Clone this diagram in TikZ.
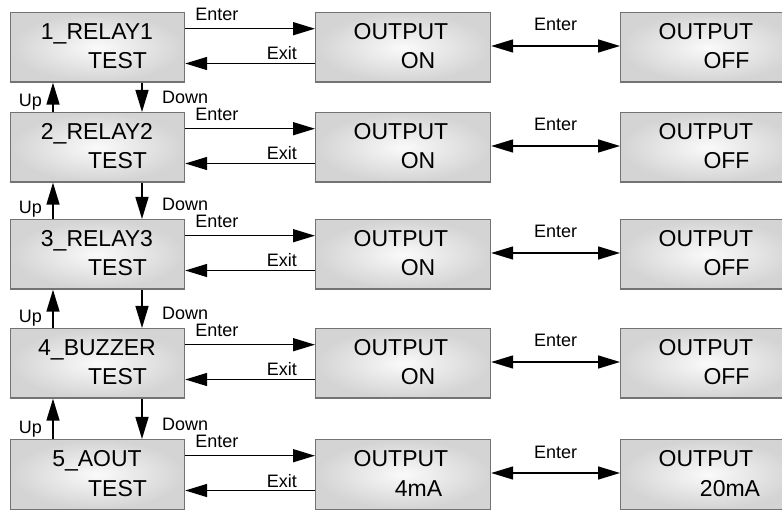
\documentclass[tikz,border=0pt]{standalone}
\usepackage{fontspec}
\setmainfont{Liberation Sans}
\usetikzlibrary{arrows.meta,calc}
\begin{document}
\begin{tikzpicture}[x=1pt,y=-1pt,
  panel/.style={draw=black!55, line width=1.2pt, inner color=black!2, outer color=black!17,
    minimum height=69.5pt, inner sep=0pt, anchor=north west},
  bigtxt/.style={font=\fontsize{23}{27}\selectfont, anchor=base, inner sep=0pt},
  tag/.style={font=\fontsize{18}{21}\selectfont, inner sep=0pt},
  link/.style={line width=1.5pt, -{Triangle[length=22pt,width=13pt]}},
  duallink/.style={line width=1.5pt, {Triangle[length=22pt,width=13pt]}-{Triangle[length=22pt,width=13pt]}},
  ]
\clip (0,0) rectangle (782,510);
\fill[white] (0,0) rectangle (782,510);

% one row per test item: menu panel, output state, toggled state
\foreach \i/\t/\name/\mtxt/\mx/\rtxt/\rx in {
    1/12/1\_RELAY1/ON/103/OFF/106.5,
    2/112/2\_RELAY2/ON/103/OFF/106.5,
    3/219/3\_RELAY3/ON/103/OFF/106.5,
    4/328/4\_BUZZER/ON/103/OFF/106.5,
    5/439/5\_AOUT/4mA/103.5/20mA/110}{
  \node[panel, minimum width=174pt] (L\i) at (10,\t) {};
  \node[panel, minimum width=175pt] (M\i) at (315,\t) {};
  \node[panel, minimum width=175pt] (R\i) at (620,\t) {};

  \node[bigtxt] (L\i a) at ($(L\i.north west)+(87,27.5)$) {\name};
  \node[bigtxt] (L\i b) at ($(L\i.north west)+(107.5,57)$) {TEST};
  \node[bigtxt] (M\i a) at ($(M\i.north west)+(86,27.5)$) {OUTPUT};
  \node[bigtxt] (M\i b) at ($(M\i.north west)+(\mx,57)$) {\mtxt};
  \node[bigtxt] (R\i a) at ($(R\i.north west)+(86,27.5)$) {OUTPUT};
  \node[bigtxt] (R\i b) at ($(R\i.north west)+(\rx,57)$) {\rtxt};

  % enter / exit between menu and output
  \draw[link] ($(L\i.north east)+(0,16.7)$) -- ($(M\i.north west)+(0,16.7)$);
  \draw[link] ($(M\i.north west)+(0,51.5)$) -- ($(L\i.north east)+(0,51.5)$);
  \node[tag, anchor=base west] (E\i) at ($(L\i.north east)+(10,8.7)$) {Enter};
  \node[tag, anchor=base east] (X\i) at ($(M\i.north west)+(-18,48)$) {Exit};

  % toggle between the two output states
  \draw[duallink] ($(M\i.north east)+(0,34)$) -- ($(R\i.north west)+(0,34)$);
  \node[tag, anchor=base] (T\i) at ($(M\i.north east)+(64.5,19)$) {Enter};
}

% up / down navigation between menu panels
\foreach \i/\j in {1/2,2/3,3/4,4/5}{
  \draw[link] ($(L\j.north west)+(43,0)$) -- ($(L\i.south west)+(43,0)$);
  \draw[link] ($(L\i.south west)+(132,0)$) -- ($(L\j.north west)+(132,0)$);
  \node[tag, anchor=base east] (U\i) at ($(L\j.north west)+(32,-5)$) {Up};
  \node[tag, anchor=base west] (D\i) at ($(L\j.north west)+(152,-8)$) {Down};
}
\end{tikzpicture}
\end{document}
